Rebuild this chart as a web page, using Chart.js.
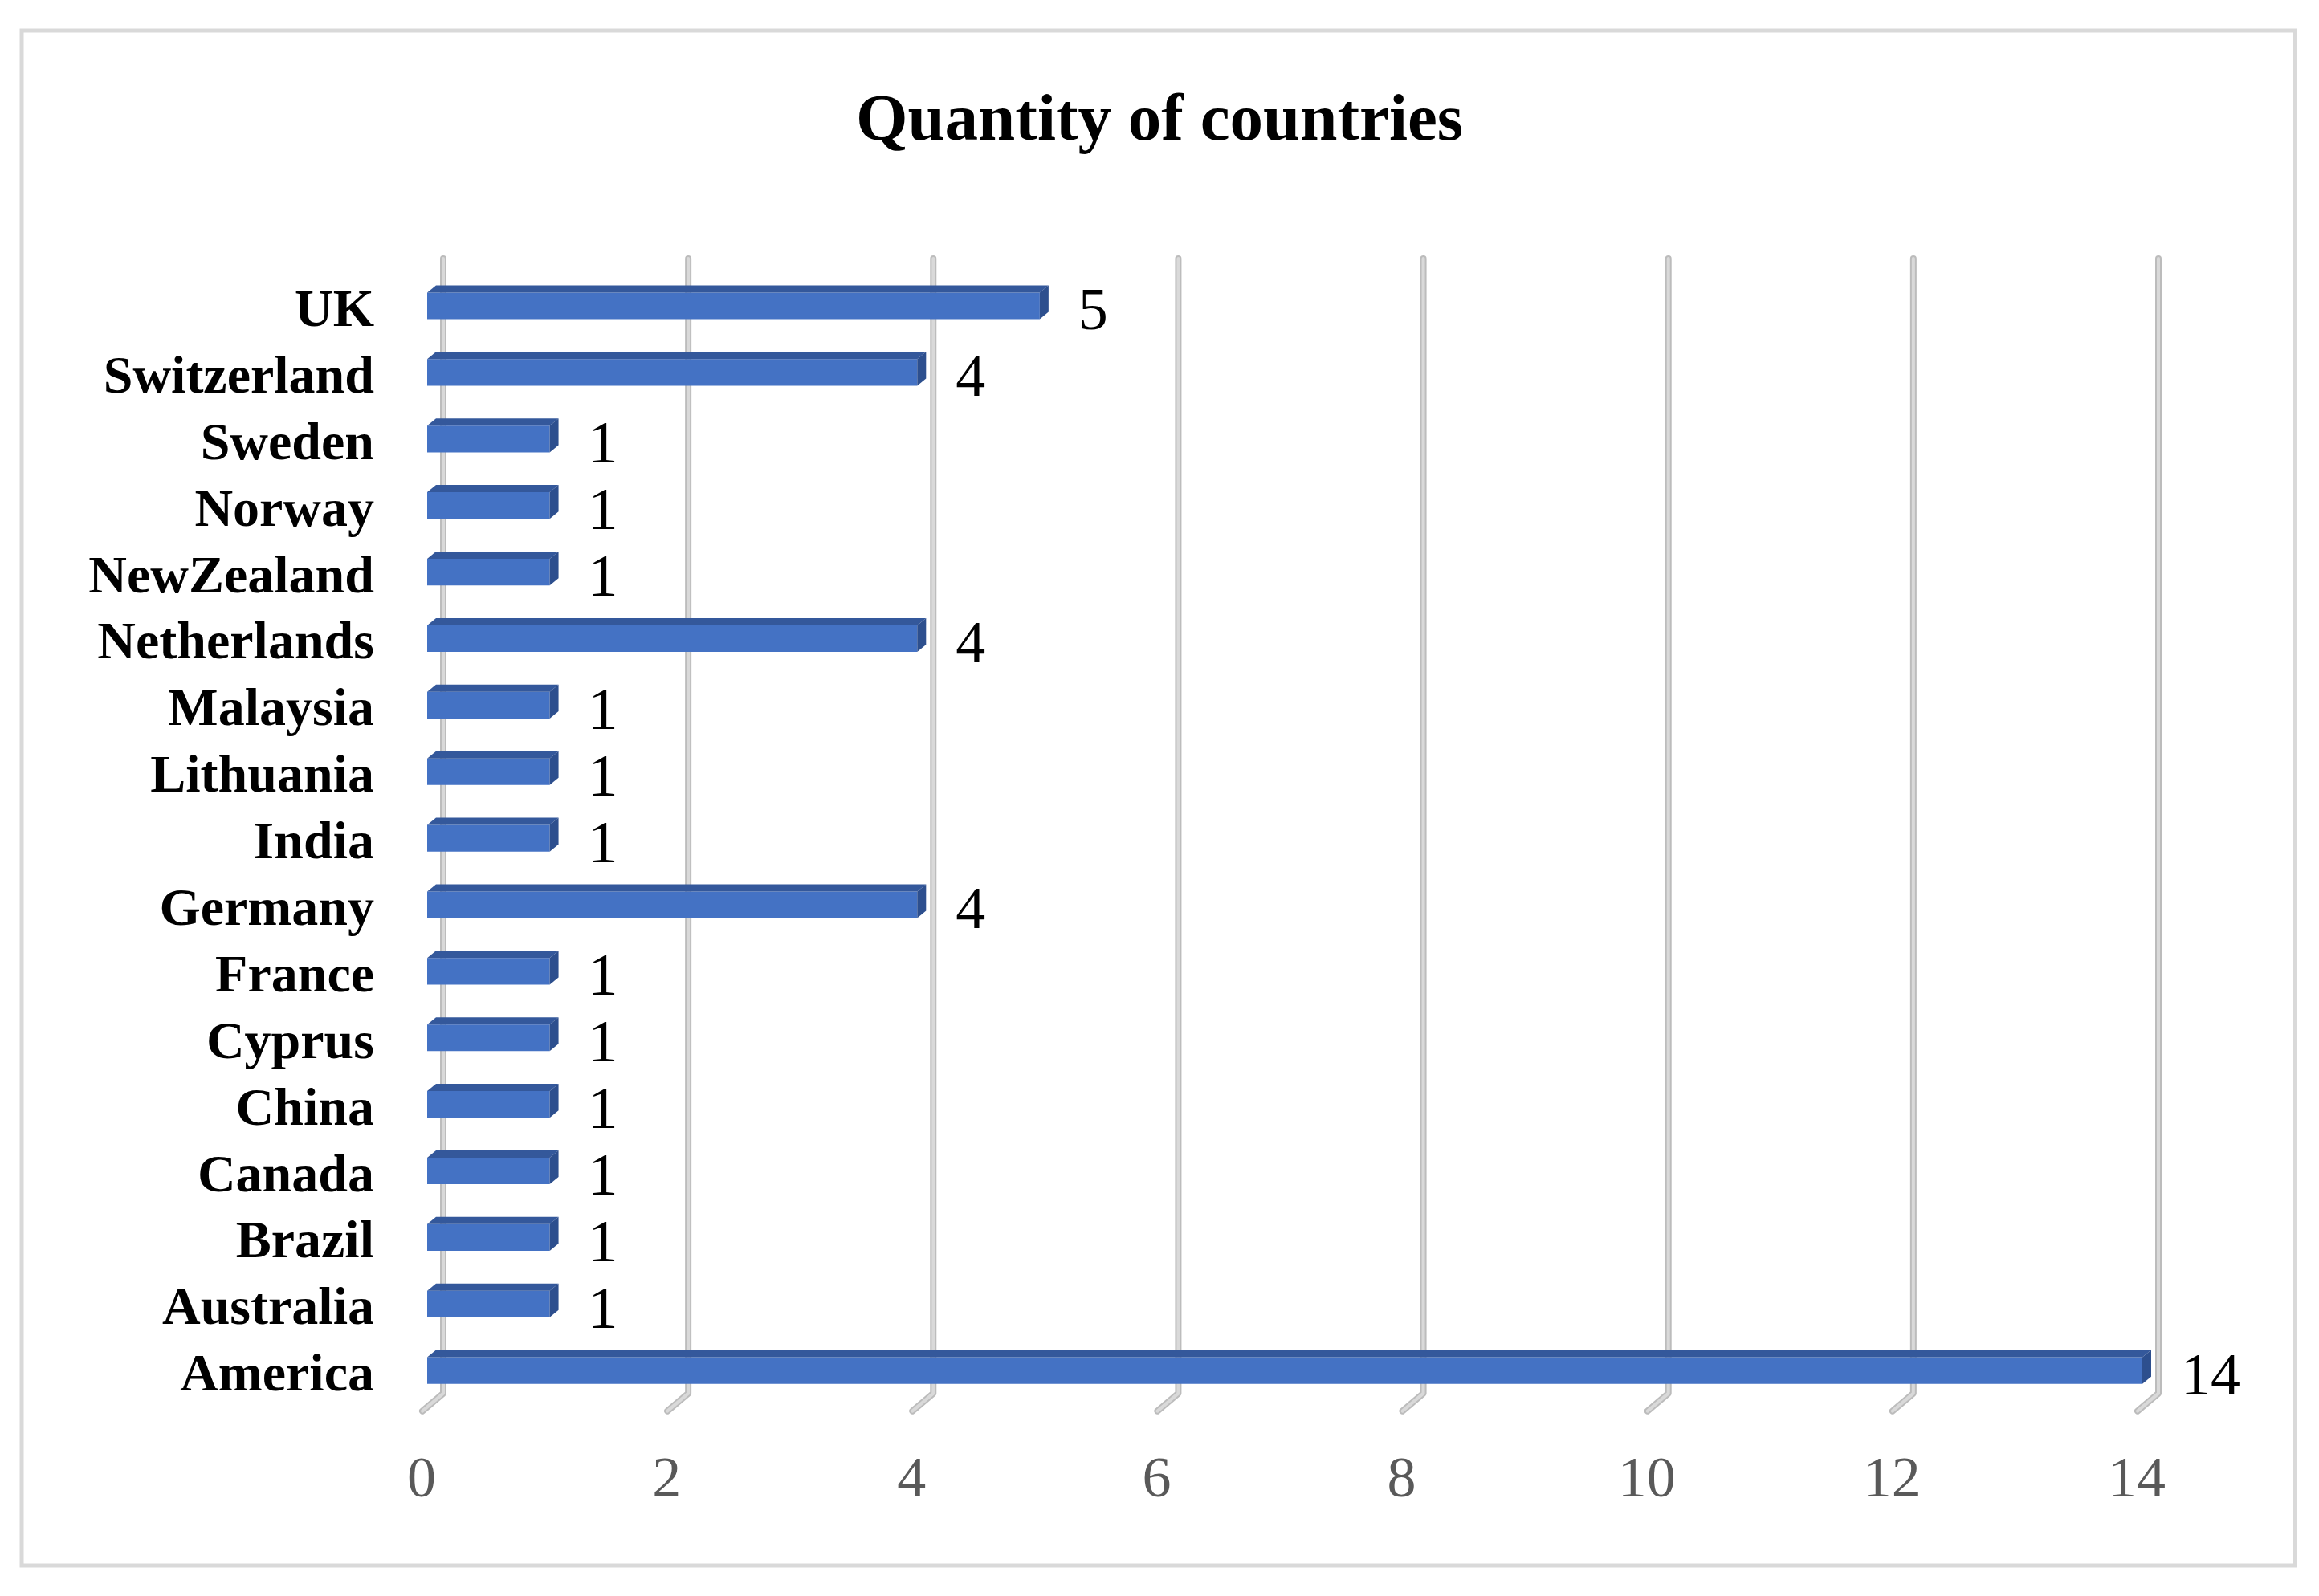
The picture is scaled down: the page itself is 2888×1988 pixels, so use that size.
<!DOCTYPE html>
<html>
<head>
<meta charset="utf-8">
<script src="https://cdn.jsdelivr.net/npm/chart.js@4/dist/chart.umd.min.js"></script>
<style>
    html, body { margin: 0; padding: 0; background: #fff; }
    #wrap { width: 2888px; height: 1988px; position: relative; }
</style>
</head>
<body>
<div id="wrap"><canvas id="chart"></canvas></div>
<script>
const countries = ["UK", "Switzerland", "Sweden", "Norway", "NewZealand", "Netherlands", "Malaysia",
    "Lithuania", "India", "Germany", "France", "Cyprus", "China", "Canada", "Brazil", "Australia", "America"];
const quantity = [5, 4, 1, 1, 1, 4, 1, 1, 1, 4, 1, 1, 1, 1, 1, 1, 14];
const xTicks = [0, 2, 4, 6, 8, 10, 12, 14];

const serif = "'Liberation Serif', 'Times New Roman', serif";

// frame + white background
const framePlugin = {
    id: "frame",
    beforeDraw(chart) {
        const ctx = chart.ctx;
        ctx.save();
        ctx.fillStyle = "#fff";
        ctx.fillRect(0, 0, chart.width, chart.height);
        ctx.strokeStyle = "#d9d9d9";
        ctx.lineWidth = 5;
        ctx.strokeRect(27, 38, 2831, 1912);
        ctx.restore();
    },
};

// back wall gridlines with the little floor foot
const wallPlugin = {
    id: "wall",
    beforeDatasetsDraw(chart) {
        const ctx = chart.ctx;
        const xs = chart.scales.x;
        const area = chart.chartArea;
        ctx.save();
        ctx.lineCap = "round";
        ctx.lineJoin = "round";
        xTicks.forEach((v) => {
            const x = xs.getPixelForValue(v) + 20;
            const path = () => {
                ctx.beginPath();
                ctx.moveTo(x, 322);
                ctx.lineTo(x, area.bottom - 13);
                ctx.lineTo(x - 26, area.bottom + 9);
            };
            path();
            ctx.strokeStyle = "#bcbcbc";
            ctx.lineWidth = 8;
            ctx.stroke();
            path();
            ctx.strokeStyle = "#d9d9d9";
            ctx.lineWidth = 4;
            ctx.stroke();
        });
        ctx.restore();
    },
};

// top + side faces of the bars, and the value labels
const depthPlugin = {
    id: "depth",
    afterDatasetsDraw(chart) {
        const ctx = chart.ctx;
        const meta = chart.getDatasetMeta(0);
        const dx = 11, dy = 9;
        ctx.save();
        meta.data.forEach((bar, i) => {
            const p = bar.getProps(["x", "y", "base", "height"], true);
            const top = p.y - p.height / 2;
            const bottom = p.y + p.height / 2;
            ctx.fillStyle = "#34589b";
            ctx.beginPath();
            ctx.moveTo(p.base, top);
            ctx.lineTo(p.base + dx, top - dy);
            ctx.lineTo(p.x + dx, top - dy);
            ctx.lineTo(p.x, top);
            ctx.closePath();
            ctx.fill();
            ctx.fillStyle = "#2d4f8e";
            ctx.beginPath();
            ctx.moveTo(p.x, top);
            ctx.lineTo(p.x + dx, top - dy);
            ctx.lineTo(p.x + dx, bottom - dy);
            ctx.lineTo(p.x, bottom);
            ctx.closePath();
            ctx.fill();

            ctx.fillStyle = "#000";
            ctx.font = "74px " + serif;
            ctx.textAlign = "left";
            ctx.textBaseline = "middle";
            ctx.fillText(String(quantity[i]), p.x + 48, p.y + 10);
        });
        ctx.restore();
    },
};

function createBarChart(canvas) {
    const chart = new Chart(canvas, {
        type: "bar",
        data: {
            labels: countries,
            datasets: [
                {
                    label: "Quantity of countries",
                    data: quantity,
                    backgroundColor: "#4472c4",
                    borderWidth: 0,
                    barPercentage: 0.4,
                    categoryPercentage: 1,
                },
            ],
        },
        options: {
            indexAxis: "y",
            responsive: true,
            maintainAspectRatio: false,
            animation: false,
            layout: {
                padding: { left: 0, right: 0, top: 0, bottom: 47 },
            },
            scales: {
                x: {
                    min: 0,
                    max: 14,
                    afterBuildTicks(scale) {
                        scale.ticks = xTicks.map((v) => ({ value: v }));
                    },
                    grid: { display: false, drawTicks: false },
                    border: { display: false },
                    ticks: {
                        color: "#595959",
                        font: { family: serif, size: 72 },
                        padding: 53,
                        labelOffset: -7,
                        maxRotation: 0,
                    },
                },
                y: {
                    afterFit(scale) {
                        scale.width = 532;
                    },
                    grid: { display: false, drawTicks: false },
                    border: { display: false },
                    ticks: {
                        color: "#000",
                        font: { family: serif, size: 66, weight: "bold" },
                        padding: 66,
                        labelOffset: 8,
                        autoSkip: false,
                    },
                },
                // empty right axis, only reserves room for the value labels
                // so the title stays centred on the whole page
                yRight: {
                    type: "category",
                    position: "right",
                    afterFit(scale) {
                        scale.width = 220;
                    },
                    grid: { display: false, drawTicks: false },
                    border: { display: false },
                    ticks: { display: false },
                },
            },
            plugins: {
                legend: { display: false },
                tooltip: { enabled: false },
                title: {
                    display: true,
                    text: "Quantity of countries",
                    color: "#000",
                    font: { family: serif, size: 83, weight: "bold", lineHeight: 1.2 },
                    padding: { top: 103, bottom: 137 },
                },
            },
        },
        plugins: [framePlugin, wallPlugin, depthPlugin],
    });

    return chart;
}

createBarChart(document.getElementById("chart"));
</script>
</body>
</html>
